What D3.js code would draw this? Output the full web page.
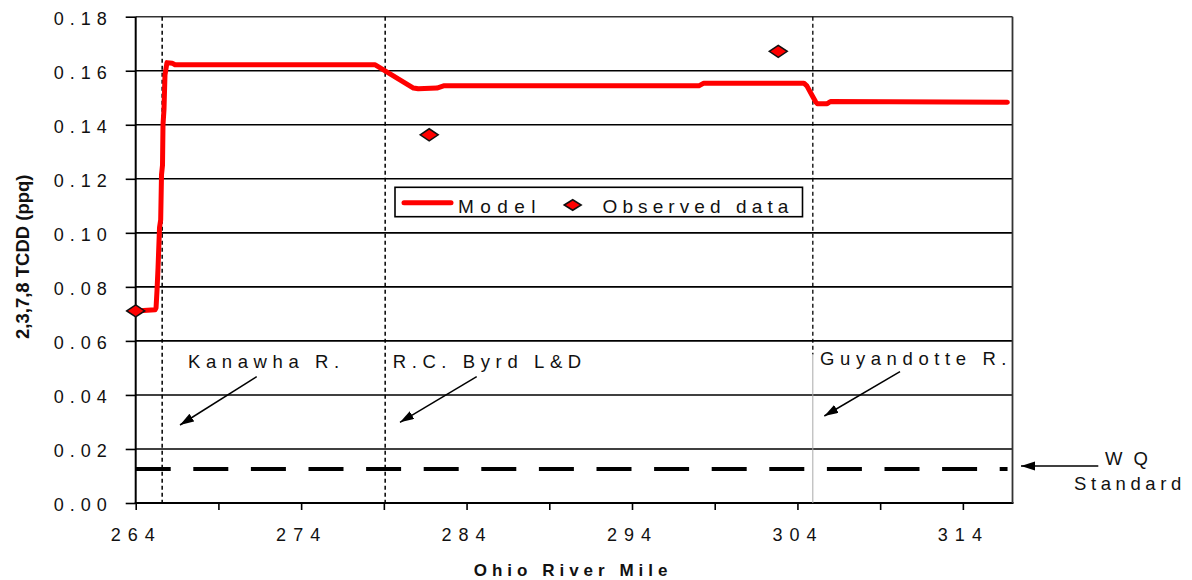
<!DOCTYPE html>
<html><head><meta charset="utf-8">
<script src="https://cdn.jsdelivr.net/npm/d3@7"></script>
<style>
body{margin:0;background:#fff}
svg text{font-family:"Liberation Sans",Arial,Helvetica,sans-serif;fill:#111}
</style>
</head><body>
<svg id="chart" width="1192" height="580"></svg>
<script>
// ---------------- data ----------------
const modelMiles  = [264.0, 265.17, 265.23, 265.29, 265.35, 265.44, 265.51, 265.56, 265.62, 265.65, 265.71, 265.77, 265.89, 266.20, 266.38, 278.48, 280.79, 281.08, 282.21, 282.61, 298.04, 298.34, 304.39, 304.57, 304.93, 305.10, 305.20, 305.80, 306.00, 316.69];
const modelValues = [0.0711, 0.0715, 0.0722, 0.0789, 0.0870, 0.1019, 0.1048, 0.1215, 0.1250, 0.1400, 0.1456, 0.1585, 0.1630, 0.1628, 0.1622, 0.1622, 0.1536, 0.1533, 0.1536, 0.1544, 0.1544, 0.1554, 0.1554, 0.1544, 0.1504, 0.1485, 0.1478, 0.1478, 0.1486, 0.1483];
const obsMiles  = [264.0, 281.74, 302.84];
const obsValues = [0.0711, 0.1363, 0.1672];
const yTicks = [0.00, 0.02, 0.04, 0.06, 0.08, 0.10, 0.12, 0.14, 0.16, 0.18];
const xTicks = [264, 269, 274, 279, 284, 289, 294, 299, 304, 309, 314];
const xTickLabels = ["264", "274", "284", "294", "304", "314"];
const siteNames = ["Kanawha R.", "R.C. Byrd L&D", "Guyandotte R."];
const siteMiles = [265.6, 279.08, 304.93];
const wqStandard = 0.0126;
const seriesNames = ["Model", "Observed data"];

// ---------------- layout ----------------
const svg = d3.select("#chart");
svg.append("rect").attr("width",1192).attr("height",580).attr("fill","#fff");
const X0 = 135.7, X1 = 1012.5, Y0 = 503, Y1 = 16.7;
const x = d3.scaleLinear().domain([264, 317]).range([X0, X1]);
const y = d3.scaleLinear().domain([0, 0.18]).range([Y0, Y1]);

const defs = svg.append("defs");
defs.append("marker").attr("id","arrow").attr("markerUnits","userSpaceOnUse")
  .attr("markerWidth",15).attr("markerHeight",10).attr("refX",14).attr("refY",4.5)
  .attr("orient","auto")
  .append("path").attr("d","M0,0 L14,4.5 L0,9 Z").attr("fill","#000");

// gridlines
svg.append("g").selectAll("line").data(yTicks.filter(d => d > 0)).join("line")
  .attr("x1", X0).attr("x2", X1).attr("y1", d => y(d)).attr("y2", d => y(d))
  .attr("stroke", d => d === 0.18 ? "#333" : "#000").attr("stroke-width", 1.6);

// y axis
const yAxis = svg.append("g").attr("transform", `translate(${X0},0)`)
  .call(d3.axisLeft(y).tickValues(yTicks).tickSize(10).tickPadding(13).tickFormat(d3.format(".2f")));
yAxis.select(".domain").remove();
yAxis.selectAll(".tick line").attr("stroke","#000").attr("stroke-width",1.6);
yAxis.selectAll(".tick text").attr("font-size",18).attr("letter-spacing","6px")
  .attr("dy","0.44em").attr("fill","#111").style("font-family","'Liberation Sans',Arial,sans-serif");

// x axis
const xAxis = svg.append("g").attr("transform", `translate(0,${Y0})`)
  .call(d3.axisBottom(x).tickValues(xTicks).tickSize(7).tickPadding(17.9)
    .tickFormat(d => xTickLabels.includes(String(d)) ? String(d) : ""));
xAxis.select(".domain").remove();
xAxis.selectAll(".tick line").attr("stroke","#000").attr("stroke-width",1.6);
xAxis.selectAll(".tick text").attr("font-size",18).attr("letter-spacing","7px")
  .attr("fill","#111").style("font-family","'Liberation Sans',Arial,sans-serif");

// frame
svg.append("line").attr("x1",X0).attr("x2",X0).attr("y1",Y1).attr("y2",Y0+1).attr("stroke","#000").attr("stroke-width",2);
svg.append("line").attr("x1",X0-1).attr("x2",X1+1).attr("y1",Y0).attr("y2",Y0).attr("stroke","#000").attr("stroke-width",2);
svg.append("line").attr("x1",X1).attr("x2",X1).attr("y1",Y1).attr("y2",Y0).attr("stroke","#333").attr("stroke-width",1.8);

// vertical site lines
siteMiles.forEach((m, i) => {
  if (i < 2) {
    svg.append("line").attr("x1",x(m)).attr("x2",x(m)).attr("y1",Y1).attr("y2",Y0)
      .attr("stroke","#000").attr("stroke-width",1.5).attr("stroke-dasharray","4,3");
  } else {
    svg.append("line").attr("x1",x(m)).attr("x2",x(m)).attr("y1",Y1).attr("y2",y(0.055))
      .attr("stroke","#000").attr("stroke-width",1.3).attr("stroke-dasharray","4,3");
    svg.append("line").attr("x1",x(m)).attr("x2",x(m)).attr("y1",y(0.055)).attr("y2",Y0)
      .attr("stroke","#aaa").attr("stroke-width",1);
  }
});

// WQ standard
svg.append("line").attr("x1",X0).attr("x2",x(316.7)).attr("y1",y(wqStandard)).attr("y2",y(wqStandard))
  .attr("stroke","#000").attr("stroke-width",4).attr("stroke-dasharray","35,22.6");

// model line
const line = d3.line().x(d => x(d[0])).y(d => y(d[1]));
svg.append("path").datum(modelMiles.map((m,i) => [m, modelValues[i]]))
  .attr("d", line).attr("fill","none").attr("stroke","#ff0000").attr("stroke-width",5)
  .attr("stroke-linejoin","round").attr("stroke-linecap","round");

// observed
const diamond = (cx, cy, w, h) => `M${cx-w/2},${cy} L${cx},${cy-h/2} L${cx+w/2},${cy} L${cx},${cy+h/2} Z`;
svg.append("g").selectAll("path").data(obsMiles.map((m,i)=>[m,obsValues[i]])).join("path")
  .attr("d", d => diamond(x(d[0]), y(d[1]), 18, 12))
  .attr("fill","#ff0000").attr("stroke","#111").attr("stroke-width",1.5);

// legend
const lg = svg.append("g");
lg.append("rect").attr("x",395).attr("y",187.3).attr("width",407.5).attr("height",29.4)
  .attr("fill","#fff").attr("stroke","#000").attr("stroke-width",1.6);
lg.append("line").attr("x1",404).attr("x2",451).attr("y1",202.7).attr("y2",202.7)
  .attr("stroke","#ff0000").attr("stroke-width",5).attr("stroke-linecap","round");
lg.append("text").attr("x",458).attr("y",213.3).attr("font-size",19).attr("letter-spacing","6.4px").text(seriesNames[0]);
lg.append("path").attr("d", diamond(572.7, 205, 17, 10.5)).attr("fill","#ff0000").attr("stroke","#111").attr("stroke-width",1.5);
lg.append("text").attr("x",602.5).attr("y",213.3).attr("font-size",19).attr("letter-spacing","5.1px").text(seriesNames[1]);

// annotations
const ann = [
  {t: siteNames[0], tx: 188, ty: 368.3, ax1: 256.7, ay1: 376.7, ax2: 180, ay2: 425},
  {t: siteNames[1], tx: 392.7, ty: 368.3, ax1: 476.7, ay1: 376.7, ax2: 400, ay2: 422.3},
  {t: siteNames[2], tx: 820, ty: 365, ax1: 900, ay1: 371.7, ax2: 824.3, ay2: 416}
];
ann.forEach(a => {
  svg.append("text").attr("x",a.tx).attr("y",a.ty).attr("font-size",18.5).attr("letter-spacing","5.6px").text(a.t);
  svg.append("line").attr("x1",a.ax1).attr("y1",a.ay1).attr("x2",a.ax2).attr("y2",a.ay2)
    .attr("stroke","#000").attr("stroke-width",1.5).attr("marker-end","url(#arrow)");
});
svg.append("line").attr("x1",1098.3).attr("y1",466).attr("x2",1021).attr("y2",466)
  .attr("stroke","#000").attr("stroke-width",1.5).attr("marker-end","url(#arrow)");
svg.append("text").attr("x",1105).attr("y",465).attr("font-size",18.5).attr("letter-spacing","3px").text("W Q");
svg.append("text").attr("x",1074).attr("y",490).attr("font-size",18.5).attr("letter-spacing","4.6px").text("Standard");

// axis titles
svg.append("text").attr("x",(X0+X1)/2 - 1).attr("y",576).attr("text-anchor","middle")
  .attr("font-size",17).attr("font-weight","bold").attr("letter-spacing","5px").text("Ohio River Mile");
svg.append("text").attr("transform","translate(29,256.7) rotate(-90)").attr("text-anchor","middle")
  .attr("font-size",18.5).attr("font-weight","bold").text("2,3,7,8 TCDD (ppq)");
</script>
</body></html>
